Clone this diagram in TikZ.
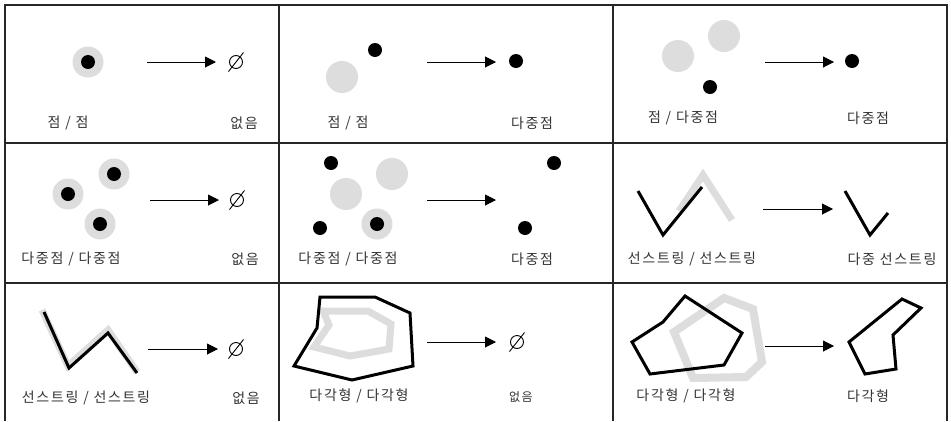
\documentclass[tikz,border=0pt]{standalone}
\usepackage{fontspec}
\newfontfamily\kr[LetterSpace=12]{Noto Sans CJK KR}
\usetikzlibrary{arrows.meta}
\definecolor{halo}{HTML}{DDDDDD}
\tikzset{
 gridline/.style={line width=1.3pt, draw=black!85},
 dot/.style={circle, fill=black, inner sep=0pt, minimum size=14pt},
 halodot/.style={circle, fill=halo, inner sep=0pt, minimum size=31pt},
 conn/.style={line width=1pt, -{Triangle[length=11pt,width=11pt]}},
 lbl/.style={font=\kr\fontsize{14}{14}\selectfont, text=black!80, inner sep=0pt},
 emptyset/.style={circle, draw=black, line width=0.9pt, inner sep=0pt, minimum size=13pt},
 slash/.style={line width=0.9pt},
 ghost/.style={draw=halo, line width=7pt, line join=miter},
 geom/.style={draw=black, line width=3pt, line join=miter},
}
\newcommand{\emptymark}[2]{%
  \node[emptyset] (#1) at #2 {};
  \draw[slash] ([shift={(-7.5,9.5)}]#1.center) -- ([shift={(7.5,-9.5)}]#1.center);}
\begin{document}
\begin{tikzpicture}[x=1pt,y=-1pt]
\useasboundingbox (0,0) rectangle (951,421);
\fill[white] (0,0) rectangle (951,421);
% grid
\draw[gridline] (5,421) -- (5,5) -- (947,5) -- (947,421);
\draw[gridline] (5,143) -- (947,143);
\draw[gridline] (5,283) -- (947,283);
\draw[gridline] (279,5) -- (279,421);
\draw[gridline] (613,5) -- (613,421);

% ---- cell 1
\node[halodot] (c1h) at (88,62) {};
\node[dot] (c1d) at (88,62) {};
\coordinate (a1s) at (147,62); \coordinate (a1e) at (216,62);
\draw[conn] (a1s) -- (a1e);
\emptymark{e1}{(236,62)}
\node[lbl] (l1a) at (68,123) {점 / 점};
\node[lbl] (l1b) at (244,123) {없음};

% ---- cell 2
\node[halodot,minimum size=32pt] (c2h) at (342,77) {};
\node[dot] (c2d) at (375,50) {};
\coordinate (a2s) at (427,62); \coordinate (a2e) at (496,62);
\draw[conn] (a2s) -- (a2e);
\node[dot] (r2) at (516,61) {};
\node[lbl] (l2a) at (348,123) {점 / 점};
\node[lbl] (l2b) at (532,123) {다중점};

% ---- cell 3
\node[halodot,minimum size=32pt] (c3h1) at (678,56) {};
\node[halodot,minimum size=32pt] (c3h2) at (724,36) {};
\node[dot] (c3d) at (710,87) {};
\coordinate (a3s) at (765,62); \coordinate (a3e) at (834,62);
\draw[conn] (a3s) -- (a3e);
\node[dot] (r3) at (852,61) {};
\node[lbl] (l3a) at (683,118) {점 / 다중점};
\node[lbl] (l3b) at (868,118) {다중점};

% ---- cell 4
\node[halodot] (c4h1) at (68,194) {};
\node[dot] (c4d1) at (68,194) {};
\node[halodot] (c4h2) at (114,174) {};
\node[dot] (c4d2) at (114,174) {};
\node[halodot] (c4h3) at (100,224) {};
\node[dot] (c4d3) at (100,224) {};
\coordinate (a4s) at (150,200); \coordinate (a4e) at (219,200);
\draw[conn] (a4s) -- (a4e);
\emptymark{e4}{(237,200)}
\node[lbl] (l4a) at (71,259) {다중점 / 다중점};
\node[lbl] (l4b) at (245,259) {없음};

% ---- cell 5
\node[halodot,minimum size=32pt] (c5h1) at (346,194) {};
\node[halodot,minimum size=32pt] (c5h2) at (392,174) {};
\node[halodot] (c5h3) at (377,224) {};
\node[dot] (c5d1) at (331,163) {};
\node[dot] (c5d2) at (320,228) {};
\node[dot] (c5d3) at (377,224) {};
\coordinate (a5s) at (427,200); \coordinate (a5e) at (496,200);
\draw[conn] (a5s) -- (a5e);
\node[dot] (r5a) at (554,163) {};
\node[dot] (r5b) at (525,228) {};
\node[lbl] (l5a) at (348,259) {다중점 / 다중점};
\node[lbl] (l5b) at (532,259) {다중점};

% ---- cell 6
\draw[ghost] (679,211) -- (703,175) -- (732,220);
\draw[geom] (638,191) -- (663,235) -- (702,187);
\coordinate (a6s) at (763,209); \coordinate (a6e) at (833,209);
\draw[conn] (a6s) -- (a6e);
\draw[geom] (845,191) -- (870,235) -- (888,213);
\node[lbl] (l6a) at (692,259) {선스트링 / 선스트링};
\node[lbl] (l6b) at (892,259) {다중 선스트링};

% ---- cell 7
\draw[ghost] (42,310) -- (68,366) -- (108,330) -- (137,372);
\draw[geom] (44,312) -- (69,368) -- (108,333) -- (137,373);
\coordinate (a7s) at (148,349); \coordinate (a7e) at (218,349);
\draw[conn] (a7s) -- (a7e);
\emptymark{e7}{(236,349)}
\node[lbl] (l7a) at (86,398) {선스트링 / 선스트링};
\node[lbl] (l7b) at (246,398) {없음};

% ---- cell 8
\draw[ghost] (323,311) -- (368,311) -- (391,324) -- (389,349) -- (350,356) -- (314,347) -- (329,325) -- cycle;
\draw[geom] (320,297) -- (375,297) -- (410,313) -- (413,366) -- (352,380) -- (294,366) -- (317,328) -- cycle;
\coordinate (a8s) at (427,342); \coordinate (a8e) at (496,342);
\draw[conn] (a8s) -- (a8e);
\emptymark{e8}{(517,342)}
\node[lbl] (l8a) at (359,396) {다각형 / 다각형};
\node[lbl,font=\kr\fontsize{12}{12}\selectfont] (l8b) at (521,397) {없음};

% ---- cell 9
\draw[ghost,line width=8pt] (724,298) -- (753,309) -- (762,362) -- (746,377) -- (693,378) -- (674,332) -- cycle;
\draw[geom] (632,342) -- (663,322) -- (685,296) -- (742,333) -- (724,365) -- (650,374) -- cycle;
\coordinate (a9s) at (765,346); \coordinate (a9e) at (834,346);
\draw[conn] (a9s) -- (a9e);
\draw[geom] (849,342) -- (902,299) -- (921,308) -- (893,335) -- (896,369) -- (865,374) -- cycle;
\node[lbl] (l9a) at (686,396) {다각형 / 다각형};
\node[lbl] (l9b) at (868,396) {다각형};
\end{tikzpicture}
\end{document}
